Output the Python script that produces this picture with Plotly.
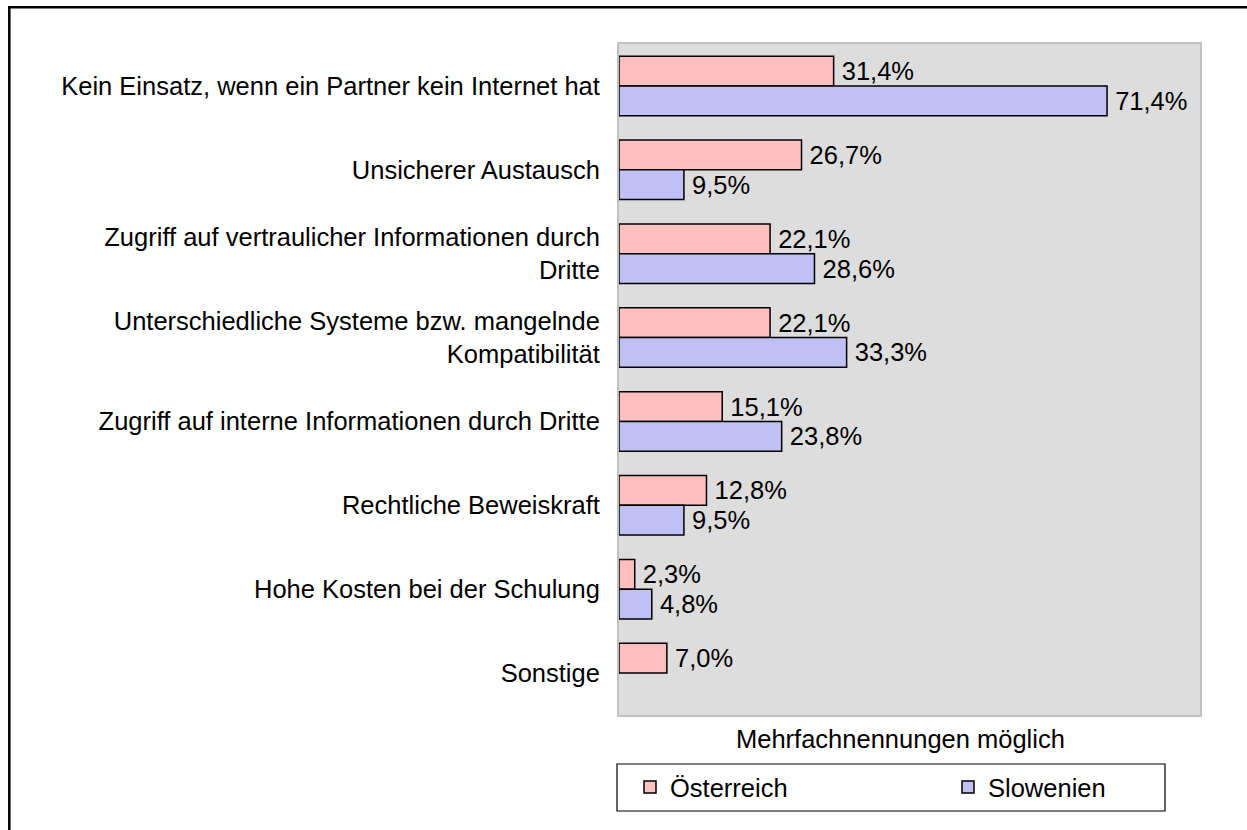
import plotly.graph_objects as go

categories = [
    "Kein Einsatz, wenn ein Partner kein Internet hat",
    "Unsicherer Austausch",
    "Zugriff auf vertraulicher Informationen durch<br>Dritte",
    "Unterschiedliche Systeme bzw. mangelnde<br>Kompatibilität",
    "Zugriff auf interne Informationen durch Dritte",
    "Rechtliche Beweiskraft",
    "Hohe Kosten bei der Schulung",
    "Sonstige",
]
oesterreich = [31.4, 26.7, 22.1, 22.1, 15.1, 12.8, 2.3, 7.0]
slowenien = [71.4, 9.5, 28.6, 33.3, 23.8, 9.5, 4.8, None]
series_names = ["Österreich", "Slowenien"]
note = "Mehrfachnennungen möglich"

FONT = "Liberation Sans, Arial, sans-serif"
FS = 25.5
W, H = 1247, 830
# plot area in page pixels
L, R, T, B = 619, 1200, 44, 715
PW, PH = R - L, B - T


def px_x(p):
    return (p - L) / PW


def px_y(p):
    return (B - p) / PH


def fmt(v):
    return "" if v is None else "\u2009" + (f"{v:.1f}%").replace(".", ",")


fig = go.Figure()
colors = ["#FFBFBF", "#C0C0F5"]
for i, (name, vals) in enumerate(zip(series_names, [oesterreich, slowenien])):
    fig.add_trace(go.Bar(
        y=categories, x=vals, orientation="h", name=name,
        marker=dict(color=colors[i], line=dict(color="black", width=1.5)),
        text=[fmt(v) for v in vals], textposition="outside",
        outsidetextfont=dict(family=FONT, size=FS, color="black"),
        cliponaxis=False,
        legend="legend" if i == 0 else "legend2",
        hoverinfo="skip",
    ))

LEG_Y = 787.5
fig.update_layout(
    width=W, height=H,
    margin=dict(l=L, r=W - R, t=T, b=H - B, pad=0),
    paper_bgcolor="white", plot_bgcolor="#DDDDDD",
    barmode="group", bargap=0.29, bargroupgap=0,
    font=dict(family=FONT, size=FS, color="black"),
    showlegend=True,
    legend=dict(orientation="h", x=px_x(650 - 20), xanchor="left",
                y=px_y(LEG_Y), yanchor="middle", bgcolor="rgba(0,0,0,0)",
                borderwidth=0, font=dict(family=FONT, size=FS, color="black")),
    legend2=dict(orientation="h", x=px_x(968 - 20), xanchor="left",
                 y=px_y(LEG_Y), yanchor="middle", bgcolor="rgba(0,0,0,0)",
                 borderwidth=0, font=dict(family=FONT, size=FS, color="black")),
    xaxis=dict(range=[0, 85], showticklabels=False, showgrid=False, zeroline=False,
               showline=True, linecolor="#C0C0C0", linewidth=2, mirror=True, ticks=""),
    yaxis=dict(autorange="reversed", showgrid=False, zeroline=False,
               showline=True, linecolor="#C0C0C0", linewidth=2, mirror=True,
               ticks="", ticklabelstandoff=12,
               tickfont=dict(family=FONT, size=FS, color="black")),
    shapes=[
        dict(type="rect", xref="paper", yref="paper",
             x0=px_x(617), x1=px_x(1165), y0=px_y(764), y1=px_y(811),
             line=dict(color="black", width=1.2), fillcolor="rgba(0,0,0,0)"),
        dict(type="line", xref="paper", yref="paper",
             x0=px_x(8), x1=px_x(1260), y0=px_y(7.3), y1=px_y(7.3),
             line=dict(color="black", width=2.5)),
        dict(type="line", xref="paper", yref="paper",
             x0=px_x(9.3), x1=px_x(9.3), y0=px_y(6), y1=px_y(840),
             line=dict(color="black", width=2.5)),
    ],
    annotations=[
        dict(text=note, xref="paper", yref="paper", x=px_x(900), y=px_y(739),
             xanchor="center", yanchor="middle", showarrow=False,
             font=dict(family=FONT, size=FS, color="black")),
    ],
)

fig.write_html(
    "out.html",
    config={"displayModeBar": False, "staticPlot": True},
    post_script="document.body.style.margin='0';document.body.style.overflow='hidden';",
)
